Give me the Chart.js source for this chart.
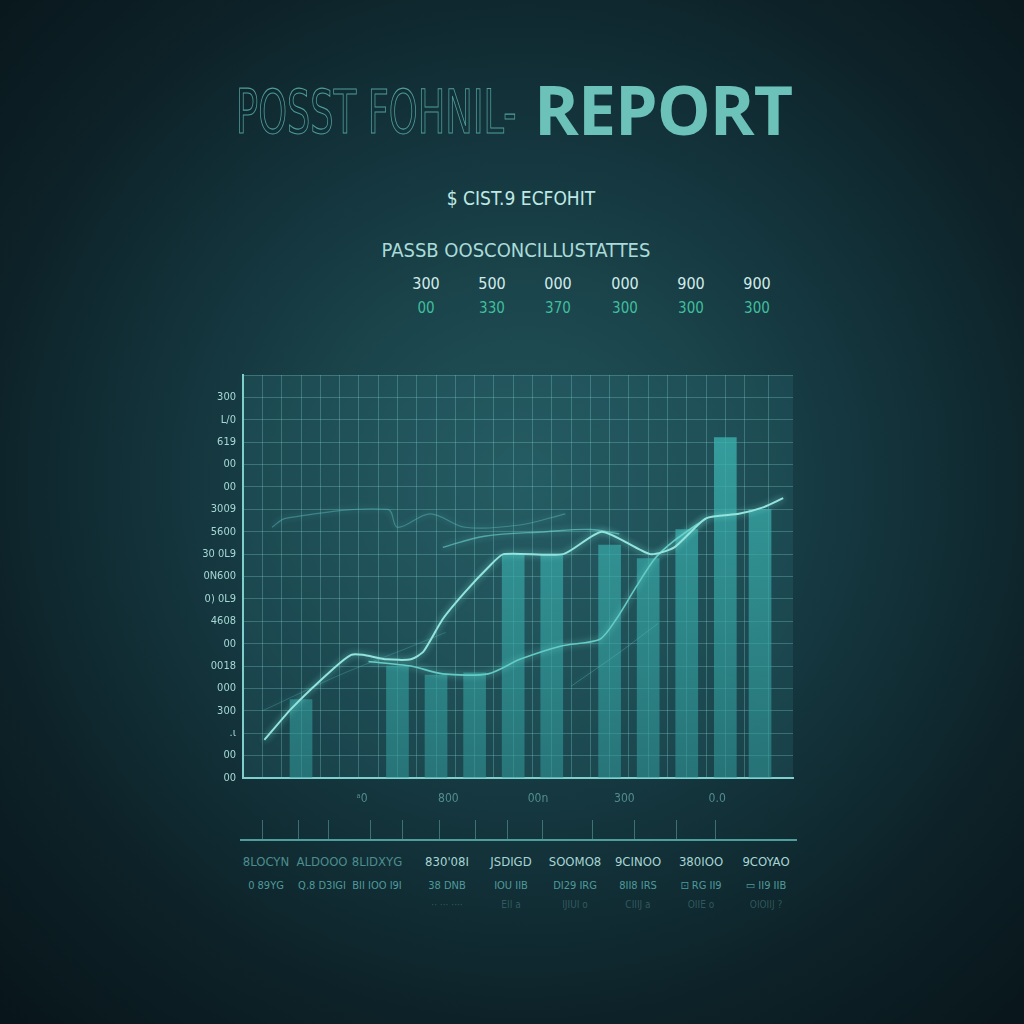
<!DOCTYPE html>
<html>
<head>
<meta charset="utf-8">
<script src="https://cdn.jsdelivr.net/npm/chart.js@4.4.1/dist/chart.umd.min.js"></script>
<style>
  html, body { margin: 0; padding: 0; }
  body {
    width: 1024px; height: 1024px; overflow: hidden; position: relative;
    background: radial-gradient(circle at 51% 47%, #22535a 0%, #1b454c 25%, #13323a 50%, #0d2228 72%, #08151a 100%);
    font-family: "Liberation Sans Narrow", "DejaVu Sans Condensed", sans-serif;
  }
  .abs { position: absolute; white-space: nowrap; line-height: 1; }
  .center { transform: translateX(-50%); }
  #outline {
    left: 236px; top: 82px; font-size: 60px; color: transparent;
    -webkit-text-stroke: 1.1px #4f9d99; transform-origin: left top; transform: scaleX(0.68);
  }
  #report {
    left: 534px; top: 75px; font-size: 68px; font-weight: 700; color: #6cc2b8;
    font-family: "Open Sans", "Noto Sans", sans-serif; letter-spacing: -1px;
  }
  #sub1 { left: 521px; top: 189px; font-size: 19px; color: #bfe9e4; }
  #sub2 { left: 516px; top: 240px; font-size: 20px; color: #a9dcd8; }
  .stat1 { font-size: 16px; color: #d2ecea; font-family: "DejaVu Sans Condensed", sans-serif; }
  .stat2 { font-size: 15px; color: #3fbf9e; font-family: "DejaVu Sans Condensed", sans-serif; }
  #chartBox { position: absolute; left: 180px; top: 360px; width: 630px; height: 460px; }
  #ruler { position: absolute; left: 240px; top: 839px; width: 557px; height: 2px; background: #4f9e9e; }
  .tick { position: absolute; top: 820px; width: 1px; height: 19px; background: rgba(110,190,190,0.45); }
  .lab1 { font-size: 13px; font-family: "DejaVu Sans Condensed", sans-serif; }
  .lab2 { font-size: 11px; color: #4f9a9a; font-family: "DejaVu Sans Condensed", sans-serif; }
  .lab3 { font-size: 10px; color: rgba(90,150,150,0.45); font-family: "DejaVu Sans Condensed", sans-serif; }
</style>
</head>
<body>
<div class="abs" id="outline">POSST FOHNIL-</div>
<div class="abs" id="report">REPORT</div>
<div class="abs center" id="sub1">$ CIST.9 ECFOHIT</div>
<div class="abs center" id="sub2">PASSB OOSCONCILLUSTATTES</div>
<div id="stats"></div>
<div id="chartBox"><canvas id="graficoRelatorio"></canvas></div>
<div id="ruler"></div>
<div id="bottom"></div>

<script>
// valores
const statsTop = ['300', '500', '000', '000', '900', '900'];
const statsBottom = ['00', '330', '370', '300', '300', '300'];
const statsX = [426, 492, 558, 625, 691, 757];

const yTickLabels = ['00', '00', '.ɩ', '300', '000', '0018', '00', '4608', '0) 0L9', '0N600',
                     '30 0L9', '5600', '3009', '00', '00', '619', 'L/0', '300'];
const xLabelPos = [4, 9.4, 15, 20.4, 26.2];
const xLabelText = ['ᵃ0', '800', '00n', '300', '0.0'];

// barras
const barX = [2.5, 7.5, 9.5, 11.5, 13.5, 15.5, 18.5, 20.5, 22.5, 24.5, 26.3];
const barValues = [3.5, 5.0, 4.6, 4.7, 10.0, 10.0, 10.4, 9.8, 11.1, 15.2, 12.0];

// linha principal
const lineAX = [0.6, 2.0, 4.2, 5.1, 5.7, 6.95, 8.2, 8.85, 9.85, 11.0, 12.2, 13.0, 16.1, 18.1, 20.6, 21.85, 23.5, 25.2, 26.5, 27.5];
const lineAY = [1.7, 3.1, 4.9, 5.5, 5.5, 5.3, 5.3, 5.65, 7.1, 8.3, 9.4, 10.0, 10.0, 11.0, 10.0, 10.3, 11.6, 11.8, 12.1, 12.5];

// linha secundária
const lineBX = [6.0, 8.2, 9.85, 12.2, 13.85, 16.0, 18.0, 18.85, 19.85, 20.85, 21.85, 23.5];
const lineBY = [5.2, 5.0, 4.65, 4.65, 5.3, 5.9, 6.2, 7.1, 8.5, 9.8, 10.6, 11.6];

// linhas fracas
const lineCX = [1.0, 1.7, 7.0, 7.5, 9.2, 11.0, 13.85, 16.2];
const lineCY = [11.2, 11.6, 12.0, 11.2, 11.8, 11.2, 11.3, 11.8];
const lineDX = [9.85, 12.0, 15.2, 17.5, 19.0];
const lineDY = [10.3, 10.8, 11.0, 11.1, 10.9];
const lineEX = [0.5, 4.5, 8.0, 10.0];
const lineEY = [3.0, 4.6, 5.8, 6.5];
const lineFX = [16.5, 19.0, 21.0];
const lineFY = [4.1, 5.6, 6.9];

const bottomRow1 = ['8LOCYN', 'ALDOOO', '8LIDXYG', '830\'08I', 'JSDIGD', 'SOOMO8', '9CINOO', '380IOO', '9COYAO'];
const bottomRow2 = ['0 89YG', 'Q.8 D3IGI', 'BII IOO I9I', '38 DNB', 'IOU IIB', 'DI29 IRG', '8II8 IRS', '⊡ RG II9', '▭ II9 IIB'];
const bottomRow3 = ['', '', '', '·· ··· ····', 'EII  a', 'IJIUI  o', 'CIIIJ  a', 'OIIE  o', 'OIOIIJ  ?'];
const bottomX = [266, 322, 377, 447, 511, 575, 638, 701, 766];
const rulerTicks = [262, 298, 328, 370, 402, 439, 475, 507, 542, 592, 634, 676, 715];

// textos do topo
const stats = document.getElementById('stats');
statsTop.forEach((t, i) => {
    stats.insertAdjacentHTML('beforeend',
        `<div class="abs center stat1" style="left:${statsX[i]}px;top:276px">${t}</div>` +
        `<div class="abs center stat2" style="left:${statsX[i]}px;top:301px">${statsBottom[i]}</div>`);
});

// régua e rótulos de baixo
const bottom = document.getElementById('bottom');
rulerTicks.forEach(x => bottom.insertAdjacentHTML('beforeend', `<div class="tick" style="left:${x}px"></div>`));
bottomRow1.forEach((t, i) => {
    const cor = i < 3 ? '#4c8e8e' : '#a7d6d4';
    bottom.insertAdjacentHTML('beforeend',
        `<div class="abs center lab1" style="left:${bottomX[i]}px;top:855px;color:${cor}">${t}</div>` +
        `<div class="abs center lab2" style="left:${bottomX[i]}px;top:880px">${bottomRow2[i]}</div>` +
        `<div class="abs center lab3" style="left:${bottomX[i]}px;top:900px">${bottomRow3[i]}</div>`);
});

const pts = (xs, ys) => xs.map((x, i) => ({ x: x, y: ys[i] }));
const gridColor = 'rgba(120, 205, 205, 0.32)';

// fundo da área do gráfico + brilho das linhas
const fundoPlugin = {
    id: 'fundo',
    beforeDraw(chart) {
        const { ctx, chartArea: a } = chart;
        ctx.save();
        ctx.fillStyle = 'rgba(50, 125, 130, 0.22)';
        ctx.fillRect(a.left, a.top, a.right - a.left, a.bottom - a.top);
        ctx.restore();
    },
    beforeDatasetDraw(chart, args) {
        if (args.meta.type === 'line') {
            chart.ctx.save();
            chart.ctx.shadowColor = 'rgba(130, 240, 230, 0.7)';
            chart.ctx.shadowBlur = 6;
        }
    },
    afterDatasetDraw(chart, args) {
        if (args.meta.type === 'line') chart.ctx.restore();
    }
};

const ctx = document.getElementById('graficoRelatorio');

new Chart(ctx, {
    type: 'bar',
    data: {
        datasets: [
            {
                type: 'line', data: pts(lineAX, lineAY),
                borderColor: '#92e4dd', borderWidth: 2, pointRadius: 0, tension: 0.2, order: 1
            },
            {
                type: 'line', data: pts(lineBX, lineBY),
                borderColor: '#63cdc5', borderWidth: 1.6, pointRadius: 0, tension: 0.25, order: 1
            },
            {
                type: 'line', data: pts(lineCX, lineCY),
                borderColor: 'rgba(90, 190, 190, 0.45)', borderWidth: 1.2, pointRadius: 0, tension: 0.35, order: 1
            },
            {
                type: 'line', data: pts(lineDX, lineDY),
                borderColor: 'rgba(110, 215, 210, 0.6)', borderWidth: 1.4, pointRadius: 0, tension: 0.35, order: 1
            },
            {
                type: 'line', data: pts(lineEX, lineEY),
                borderColor: 'rgba(90, 190, 190, 0.3)', borderWidth: 1, pointRadius: 0, tension: 0.3, order: 1
            },
            {
                type: 'line', data: pts(lineFX, lineFY),
                borderColor: 'rgba(90, 190, 190, 0.35)', borderWidth: 1, pointRadius: 0, tension: 0.3, order: 1
            },
            {
                type: 'bar', data: pts(barX, barValues), barThickness: 22, order: 2,
                backgroundColor: (c) => {
                    const a = c.chart.chartArea;
                    if (!a) return 'rgba(55, 170, 168, 0.6)';
                    const g = c.chart.ctx.createLinearGradient(0, a.top, 0, a.bottom);
                    g.addColorStop(0, 'rgba(62, 185, 182, 0.8)');
                    g.addColorStop(1, 'rgba(48, 150, 150, 0.58)');
                    return g;
                }
            }
        ]
    },
    options: {
        responsive: true,
        maintainAspectRatio: false,
        animation: false,
        layout: { padding: { top: 15, right: 17, left: 0, bottom: 0 } },
        plugins: { legend: { display: false }, tooltip: { enabled: false } },
        scales: {
            x: {
                type: 'linear', min: 0, max: 27.5, position: 'bottom',
                ticks: { display: false, stepSize: 1 },
                grid: { color: gridColor, drawTicks: false },
                border: { color: '#7fcfcf', width: 2 },
                afterFit: (s) => { s.height = 0; }
            },
            xl: {
                type: 'linear', min: 0, max: 27.5, position: 'bottom',
                grid: { display: false }, border: { display: false },
                afterBuildTicks: (s) => { s.ticks = xLabelPos.map(v => ({ value: v })); },
                ticks: {
                    autoSkip: false, maxRotation: 0, padding: 6,
                    color: 'rgba(100, 170, 170, 0.75)',
                    font: { family: 'DejaVu Sans Condensed', size: 12 },
                    callback: (v, i) => xLabelText[i]
                },
                afterFit: (s) => { s.height = 42; }
            },
            y: {
                min: 0, max: 18,
                ticks: {
                    stepSize: 1, padding: 7, color: '#a6d9d6',
                    font: { family: 'DejaVu Sans Condensed', size: 11 },
                    callback: (v) => yTickLabels[v] ?? ''
                },
                grid: { color: gridColor, drawTicks: false },
                border: { color: '#7fcfcf', width: 2 },
                afterFit: (s) => { s.width = 63; }
            }
        }
    },
    plugins: [fundoPlugin]
});
</script>
</body>
</html>
